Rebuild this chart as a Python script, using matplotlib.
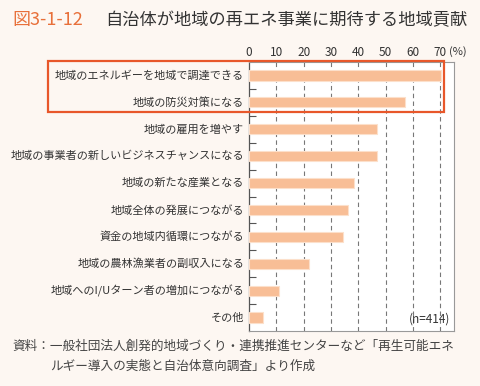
import matplotlib
matplotlib.use("Agg")
import matplotlib.pyplot as plt
from matplotlib.patches import Rectangle

plt.rcParams['font.family'] = ['Noto Sans CJK JP', 'DejaVu Sans']

# data (%)
categories = [
    "地域のエネルギーを地域で調達できる",
    "地域の防災対策になる",
    "地域の雇用を増やす",
    "地域の事業者の新しいビジネスチャンスになる",
    "地域の新たな産業となる",
    "地域全体の発展につながる",
    "資金の地域内循環につながる",
    "地域の農林漁業者の副収入になる",
    "地域へのI/Uターン者の増加につながる",
    "その他",
]
values = [70.1, 56.9, 46.9, 46.9, 38.3, 36.4, 34.4, 22.0, 11.0, 5.3]
xticks = [0, 10, 20, 30, 40, 50, 60, 70]

bg = "#FDF7F2"
fig = plt.figure(figsize=(4.81, 3.86), dpi=100, facecolor=bg)
ax = fig.add_axes([249/481, 1-331/386, 205/481, 269/386])
ax.set_facecolor("white")

y = list(range(len(categories)))
ax.barh(y, values, height=0.38, color="#F8BE96", edgecolor="#FCE0CB", linewidth=0.8, zorder=3)

ax.set_xlim(0, 75)
ax.set_ylim(len(categories) - 0.5, -0.5)

ax.xaxis.tick_top()
ax.set_xticks(xticks)
ax.set_xticklabels([str(t) for t in xticks], fontsize=8.5, color="#333333")
ax.tick_params(axis="x", length=0, pad=2)
for t in xticks[1:]:
    ax.axvline(t, color="#777777", lw=0.8, ls=(0, (4, 3)), zorder=1)

ax.set_yticks([i + 0.5 for i in range(len(categories) - 1)])
ax.set_yticklabels([])
ax.tick_params(axis="y", direction="in", length=5, color="#555555", width=0.8)
for i, c in enumerate(categories):
    ax.text(-1.8, i, c, ha="right", va="center", fontsize=8, color="#333333")

for s in ["top", "right", "bottom"]:
    ax.spines[s].set_color("#999999")
    ax.spines[s].set_linewidth(0.8)
ax.spines["left"].set_color("#555555")
ax.spines["left"].set_linewidth(0.9)

fig.text(449/481, 1-52/386, "(%)", fontsize=8, color="#333333", ha="left", va="center")
ax.text(73.5, 9.05, "(n=414)", fontsize=8.5, color="#333333", ha="right", va="center")

# highlight box
fig.add_artist(Rectangle((48/481, 1-112.5/386), (444-48)/481, 51/386,
                         transform=fig.transFigure, fill=False,
                         edgecolor="#E8572A", lw=1.6, zorder=10))

fig.text(12/481, 1-20/386, "図3-1-12", fontsize=13, color="#E8703A", ha="left", va="center")
fig.text(105/481, 1-20/386, "自治体が地域の再エネ事業に期待する地域貢献", fontsize=12.4,
         color="#333333", ha="left", va="center")

fig.text(12/481, 1-346/386, "資料：一般社団法人創発的地域づくり・連携推進センターなど「再生可能エネ",
         fontsize=9.1, color="#444444", ha="left", va="center")
fig.text(50/481, 1-366/386, "ルギー導入の実態と自治体意向調査」より作成",
         fontsize=9.1, color="#444444", ha="left", va="center")

fig.savefig("out.png", dpi=100, facecolor=bg)
